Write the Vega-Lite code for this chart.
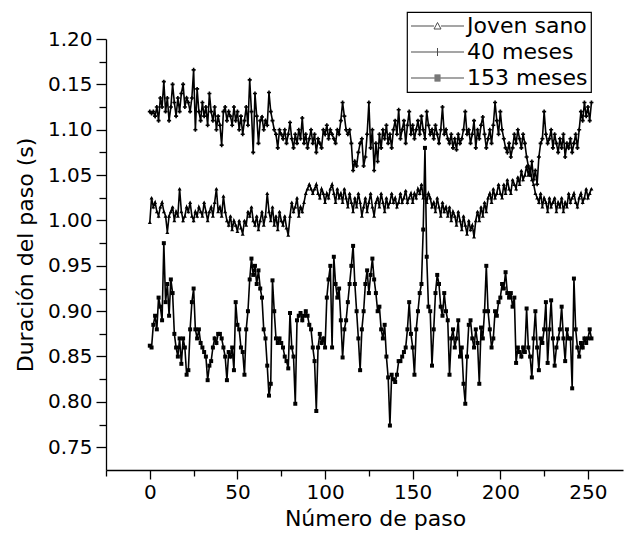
{
"$schema": "https://vega.github.io/schema/vega-lite/v6.json",
"width": 517, "height": 431,
"autosize": {"type": "none"},
"padding": {"left": 106, "top": 39, "right": 1, "bottom": 68},
"background": "white",
"config": {
 "view": {"stroke": null},
 "font": "DejaVu Sans",
 "axis": {"grid": false, "domainColor": "black", "domainWidth": 1.3, "tickColor": "black", "tickWidth": 1.3, "labelColor": "black", "titleColor": "black", "labelFont": "DejaVu Sans", "titleFont": "DejaVu Sans", "labelFontSize": 20, "titleFontSize": 22, "titleFontWeight": "normal", "labelOverlap": false, "labelFlush": false},
 "legend": {"orient": "none", "legendX": 301, "legendY": -27, "strokeColor": "black", "strokeWidth": 1.2, "fillColor": "white", "padding": 3, "cornerRadius": 0, "labelFont": "DejaVu Sans", "labelFontSize": 22, "labelColor": "black", "symbolSize": 400, "symbolStrokeColor": "black", "symbolFillColor": "transparent", "symbolStrokeWidth": 1, "labelOffset": 35, "rowPadding": 4}
},
"data": {"values": [
{"p":0,"Joven sano":0.998,"40 meses":1.120,"153 meses":0.862},
{"p":1,"Joven sano":1.025,"40 meses":1.118,"153 meses":0.860},
{"p":2,"Joven sano":1.015,"40 meses":1.120,"153 meses":0.885},
{"p":3,"Joven sano":1.020,"40 meses":1.115,"153 meses":0.895},
{"p":4,"Joven sano":1.010,"40 meses":1.125,"153 meses":0.880},
{"p":5,"Joven sano":1.005,"40 meses":1.110,"153 meses":0.915},
{"p":6,"Joven sano":1.015,"40 meses":1.135,"153 meses":0.905},
{"p":7,"Joven sano":1.020,"40 meses":1.125,"153 meses":0.890},
{"p":8,"Joven sano":1.010,"40 meses":1.153,"153 meses":0.975},
{"p":9,"Joven sano":1.005,"40 meses":1.120,"153 meses":0.910},
{"p":10,"Joven sano":0.987,"40 meses":1.135,"153 meses":0.930},
{"p":11,"Joven sano":1.005,"40 meses":1.110,"153 meses":0.895},
{"p":12,"Joven sano":1.010,"40 meses":1.125,"153 meses":0.935},
{"p":13,"Joven sano":1.015,"40 meses":1.150,"153 meses":0.920},
{"p":14,"Joven sano":1.000,"40 meses":1.130,"153 meses":0.875},
{"p":15,"Joven sano":1.010,"40 meses":1.115,"153 meses":0.860},
{"p":16,"Joven sano":1.005,"40 meses":1.135,"153 meses":0.850},
{"p":17,"Joven sano":1.035,"40 meses":1.120,"153 meses":0.870},
{"p":18,"Joven sano":1.010,"40 meses":1.140,"153 meses":0.842},
{"p":19,"Joven sano":1.000,"40 meses":1.150,"153 meses":0.870},
{"p":20,"Joven sano":1.005,"40 meses":1.125,"153 meses":0.860},
{"p":21,"Joven sano":1.015,"40 meses":1.135,"153 meses":0.830},
{"p":22,"Joven sano":1.010,"40 meses":1.130,"153 meses":0.835},
{"p":23,"Joven sano":1.020,"40 meses":1.120,"153 meses":0.880},
{"p":24,"Joven sano":1.005,"40 meses":1.135,"153 meses":0.910},
{"p":25,"Joven sano":1.000,"40 meses":1.166,"153 meses":0.925},
{"p":26,"Joven sano":1.010,"40 meses":1.100,"153 meses":0.880},
{"p":27,"Joven sano":1.005,"40 meses":1.145,"153 meses":0.870},
{"p":28,"Joven sano":1.015,"40 meses":1.120,"153 meses":0.880},
{"p":29,"Joven sano":1.010,"40 meses":1.110,"153 meses":0.865},
{"p":30,"Joven sano":1.005,"40 meses":1.130,"153 meses":0.860},
{"p":31,"Joven sano":1.020,"40 meses":1.115,"153 meses":0.855},
{"p":32,"Joven sano":1.010,"40 meses":1.125,"153 meses":0.850},
{"p":33,"Joven sano":1.000,"40 meses":1.105,"153 meses":0.824},
{"p":34,"Joven sano":1.010,"40 meses":1.140,"153 meses":0.840},
{"p":35,"Joven sano":1.015,"40 meses":1.120,"153 meses":0.845},
{"p":36,"Joven sano":1.005,"40 meses":1.110,"153 meses":0.860},
{"p":37,"Joven sano":1.020,"40 meses":1.125,"153 meses":0.870},
{"p":38,"Joven sano":1.035,"40 meses":1.100,"153 meses":0.865},
{"p":39,"Joven sano":1.010,"40 meses":1.115,"153 meses":0.875},
{"p":40,"Joven sano":1.015,"40 meses":1.105,"153 meses":0.875},
{"p":41,"Joven sano":1.005,"40 meses":1.083,"153 meses":0.870},
{"p":42,"Joven sano":1.027,"40 meses":1.120,"153 meses":0.860},
{"p":43,"Joven sano":1.010,"40 meses":1.125,"153 meses":0.850},
{"p":44,"Joven sano":1.000,"40 meses":1.110,"153 meses":0.824},
{"p":45,"Joven sano":0.995,"40 meses":1.120,"153 meses":0.855},
{"p":46,"Joven sano":1.005,"40 meses":1.115,"153 meses":0.850},
{"p":47,"Joven sano":0.990,"40 meses":1.105,"153 meses":0.860},
{"p":48,"Joven sano":1.000,"40 meses":1.125,"153 meses":0.835},
{"p":49,"Joven sano":0.995,"40 meses":1.110,"153 meses":0.910},
{"p":50,"Joven sano":0.988,"40 meses":1.120,"153 meses":0.885},
{"p":51,"Joven sano":1.000,"40 meses":1.100,"153 meses":0.880},
{"p":52,"Joven sano":0.992,"40 meses":1.115,"153 meses":0.860},
{"p":53,"Joven sano":0.985,"40 meses":1.095,"153 meses":0.855},
{"p":54,"Joven sano":1.000,"40 meses":1.110,"153 meses":0.830},
{"p":55,"Joven sano":0.995,"40 meses":1.125,"153 meses":0.880},
{"p":56,"Joven sano":1.010,"40 meses":1.105,"153 meses":0.900},
{"p":57,"Joven sano":1.005,"40 meses":1.155,"153 meses":0.935},
{"p":58,"Joven sano":1.015,"40 meses":1.120,"153 meses":0.958},
{"p":59,"Joven sano":1.000,"40 meses":1.075,"153 meses":0.940},
{"p":60,"Joven sano":0.995,"40 meses":1.140,"153 meses":0.950},
{"p":61,"Joven sano":1.005,"40 meses":1.115,"153 meses":0.930},
{"p":62,"Joven sano":0.990,"40 meses":1.085,"153 meses":0.945},
{"p":63,"Joven sano":1.000,"40 meses":1.110,"153 meses":0.925},
{"p":64,"Joven sano":1.010,"40 meses":1.114,"153 meses":0.915},
{"p":65,"Joven sano":0.995,"40 meses":1.100,"153 meses":0.880},
{"p":66,"Joven sano":1.005,"40 meses":1.110,"153 meses":0.870},
{"p":67,"Joven sano":1.030,"40 meses":1.105,"153 meses":0.840},
{"p":68,"Joven sano":1.010,"40 meses":1.141,"153 meses":0.807},
{"p":69,"Joven sano":1.000,"40 meses":1.120,"153 meses":0.820},
{"p":70,"Joven sano":1.015,"40 meses":1.110,"153 meses":0.934},
{"p":71,"Joven sano":0.995,"40 meses":1.100,"153 meses":0.900},
{"p":72,"Joven sano":1.005,"40 meses":1.095,"153 meses":0.870},
{"p":73,"Joven sano":0.990,"40 meses":1.080,"153 meses":0.865},
{"p":74,"Joven sano":1.010,"40 meses":1.100,"153 meses":0.870},
{"p":75,"Joven sano":1.000,"40 meses":1.095,"153 meses":0.865},
{"p":76,"Joven sano":0.995,"40 meses":1.090,"153 meses":0.860},
{"p":77,"Joven sano":1.005,"40 meses":1.100,"153 meses":0.850},
{"p":78,"Joven sano":0.992,"40 meses":1.085,"153 meses":0.845},
{"p":79,"Joven sano":0.984,"40 meses":1.095,"153 meses":0.837},
{"p":80,"Joven sano":1.005,"40 meses":1.108,"153 meses":0.898},
{"p":81,"Joven sano":1.020,"40 meses":1.090,"153 meses":0.860},
{"p":82,"Joven sano":1.010,"40 meses":1.080,"153 meses":0.850},
{"p":83,"Joven sano":1.015,"40 meses":1.095,"153 meses":0.798},
{"p":84,"Joven sano":1.025,"40 meses":1.085,"153 meses":0.890},
{"p":85,"Joven sano":1.005,"40 meses":1.100,"153 meses":0.895},
{"p":86,"Joven sano":1.015,"40 meses":1.090,"153 meses":0.898},
{"p":87,"Joven sano":1.010,"40 meses":1.113,"153 meses":0.890},
{"p":88,"Joven sano":1.020,"40 meses":1.085,"153 meses":0.895},
{"p":89,"Joven sano":1.030,"40 meses":1.095,"153 meses":0.900},
{"p":90,"Joven sano":1.035,"40 meses":1.080,"153 meses":0.895},
{"p":91,"Joven sano":1.040,"40 meses":1.090,"153 meses":0.885},
{"p":92,"Joven sano":1.035,"40 meses":1.100,"153 meses":0.880},
{"p":93,"Joven sano":1.030,"40 meses":1.085,"153 meses":0.860},
{"p":94,"Joven sano":1.035,"40 meses":1.095,"153 meses":0.845},
{"p":95,"Joven sano":1.040,"40 meses":1.075,"153 meses":0.790},
{"p":96,"Joven sano":1.030,"40 meses":1.090,"153 meses":0.860},
{"p":97,"Joven sano":1.025,"40 meses":1.085,"153 meses":0.875},
{"p":98,"Joven sano":1.035,"40 meses":1.080,"153 meses":0.865},
{"p":99,"Joven sano":1.030,"40 meses":1.100,"153 meses":0.870},
{"p":100,"Joven sano":1.020,"40 meses":1.095,"153 meses":0.860},
{"p":101,"Joven sano":1.030,"40 meses":1.105,"153 meses":0.915},
{"p":102,"Joven sano":1.025,"40 meses":1.090,"153 meses":0.935},
{"p":103,"Joven sano":1.035,"40 meses":1.100,"153 meses":0.950},
{"p":104,"Joven sano":1.040,"40 meses":1.095,"153 meses":0.860},
{"p":105,"Joven sano":1.030,"40 meses":1.090,"153 meses":0.960},
{"p":106,"Joven sano":1.020,"40 meses":1.085,"153 meses":0.930},
{"p":107,"Joven sano":1.035,"40 meses":1.100,"153 meses":0.915},
{"p":108,"Joven sano":1.025,"40 meses":1.095,"153 meses":0.925},
{"p":109,"Joven sano":1.030,"40 meses":1.110,"153 meses":0.890},
{"p":110,"Joven sano":1.020,"40 meses":1.130,"153 meses":0.849},
{"p":111,"Joven sano":1.035,"40 meses":1.115,"153 meses":0.880},
{"p":112,"Joven sano":1.025,"40 meses":1.100,"153 meses":0.890},
{"p":113,"Joven sano":1.015,"40 meses":1.095,"153 meses":0.910},
{"p":114,"Joven sano":1.030,"40 meses":1.100,"153 meses":0.930},
{"p":115,"Joven sano":1.020,"40 meses":1.085,"153 meses":0.950},
{"p":116,"Joven sano":1.010,"40 meses":1.055,"153 meses":0.972},
{"p":117,"Joven sano":1.025,"40 meses":1.065,"153 meses":0.930},
{"p":118,"Joven sano":1.015,"40 meses":1.060,"153 meses":0.900},
{"p":119,"Joven sano":1.030,"40 meses":1.075,"153 meses":0.870},
{"p":120,"Joven sano":1.020,"40 meses":1.085,"153 meses":0.835},
{"p":121,"Joven sano":1.005,"40 meses":1.090,"153 meses":0.880},
{"p":122,"Joven sano":1.015,"40 meses":1.060,"153 meses":0.900},
{"p":123,"Joven sano":1.025,"40 meses":1.070,"153 meses":0.930},
{"p":124,"Joven sano":1.010,"40 meses":1.095,"153 meses":0.945},
{"p":125,"Joven sano":1.020,"40 meses":1.130,"153 meses":0.920},
{"p":126,"Joven sano":1.030,"40 meses":1.080,"153 meses":0.940},
{"p":127,"Joven sano":1.015,"40 meses":1.100,"153 meses":0.958},
{"p":128,"Joven sano":1.005,"40 meses":1.055,"153 meses":0.935},
{"p":129,"Joven sano":1.020,"40 meses":1.085,"153 meses":0.920},
{"p":130,"Joven sano":1.025,"40 meses":1.065,"153 meses":0.900},
{"p":131,"Joven sano":1.015,"40 meses":1.095,"153 meses":0.905},
{"p":132,"Joven sano":1.030,"40 meses":1.080,"153 meses":0.880},
{"p":133,"Joven sano":1.020,"40 meses":1.100,"153 meses":0.870},
{"p":134,"Joven sano":1.010,"40 meses":1.090,"153 meses":0.885},
{"p":135,"Joven sano":1.025,"40 meses":1.105,"153 meses":0.850},
{"p":136,"Joven sano":1.015,"40 meses":1.085,"153 meses":0.827},
{"p":137,"Joven sano":1.020,"40 meses":1.095,"153 meses":0.774},
{"p":138,"Joven sano":1.030,"40 meses":1.080,"153 meses":0.830},
{"p":139,"Joven sano":1.020,"40 meses":1.100,"153 meses":0.825},
{"p":140,"Joven sano":1.025,"40 meses":1.110,"153 meses":0.822},
{"p":141,"Joven sano":1.015,"40 meses":1.095,"153 meses":0.830},
{"p":142,"Joven sano":1.020,"40 meses":1.122,"153 meses":0.845},
{"p":143,"Joven sano":1.030,"40 meses":1.090,"153 meses":0.845},
{"p":144,"Joven sano":1.020,"40 meses":1.100,"153 meses":0.850},
{"p":145,"Joven sano":1.025,"40 meses":1.110,"153 meses":0.855},
{"p":146,"Joven sano":1.033,"40 meses":1.085,"153 meses":0.860},
{"p":147,"Joven sano":1.020,"40 meses":1.105,"153 meses":0.880},
{"p":148,"Joven sano":1.025,"40 meses":1.120,"153 meses":0.910},
{"p":149,"Joven sano":1.030,"40 meses":1.095,"153 meses":0.875},
{"p":150,"Joven sano":1.020,"40 meses":1.105,"153 meses":0.860},
{"p":151,"Joven sano":1.030,"40 meses":1.090,"153 meses":0.830},
{"p":152,"Joven sano":1.025,"40 meses":1.100,"153 meses":0.880},
{"p":153,"Joven sano":1.035,"40 meses":1.110,"153 meses":0.900},
{"p":154,"Joven sano":1.030,"40 meses":1.095,"153 meses":0.920},
{"p":155,"Joven sano":1.040,"40 meses":1.115,"153 meses":0.930},
{"p":156,"Joven sano":1.025,"40 meses":1.100,"153 meses":0.990},
{"p":157,"Joven sano":1.030,"40 meses":1.090,"153 meses":1.080},
{"p":158,"Joven sano":1.020,"40 meses":1.120,"153 meses":0.960},
{"p":159,"Joven sano":1.030,"40 meses":1.105,"153 meses":0.905},
{"p":160,"Joven sano":1.025,"40 meses":1.095,"153 meses":0.900},
{"p":161,"Joven sano":1.015,"40 meses":1.100,"153 meses":0.840},
{"p":162,"Joven sano":1.020,"40 meses":1.090,"153 meses":0.880},
{"p":163,"Joven sano":1.010,"40 meses":1.105,"153 meses":0.920},
{"p":164,"Joven sano":1.025,"40 meses":1.095,"153 meses":0.940},
{"p":165,"Joven sano":1.015,"40 meses":1.085,"153 meses":0.930},
{"p":166,"Joven sano":1.005,"40 meses":1.100,"153 meses":0.905},
{"p":167,"Joven sano":1.020,"40 meses":1.125,"153 meses":0.895},
{"p":168,"Joven sano":1.010,"40 meses":1.095,"153 meses":0.920},
{"p":169,"Joven sano":1.015,"40 meses":1.100,"153 meses":0.900},
{"p":170,"Joven sano":1.005,"40 meses":1.090,"153 meses":0.890},
{"p":171,"Joven sano":1.015,"40 meses":1.085,"153 meses":0.830},
{"p":172,"Joven sano":1.000,"40 meses":1.095,"153 meses":0.870},
{"p":173,"Joven sano":1.010,"40 meses":1.080,"153 meses":0.880},
{"p":174,"Joven sano":1.005,"40 meses":1.090,"153 meses":0.860},
{"p":175,"Joven sano":0.995,"40 meses":1.078,"153 meses":0.870},
{"p":176,"Joven sano":1.010,"40 meses":1.095,"153 meses":0.890},
{"p":177,"Joven sano":1.000,"40 meses":1.085,"153 meses":0.850},
{"p":178,"Joven sano":0.990,"40 meses":1.090,"153 meses":0.860},
{"p":179,"Joven sano":1.005,"40 meses":1.100,"153 meses":0.820},
{"p":180,"Joven sano":0.995,"40 meses":1.120,"153 meses":0.798},
{"p":181,"Joven sano":0.985,"40 meses":1.095,"153 meses":0.850},
{"p":182,"Joven sano":1.000,"40 meses":1.100,"153 meses":0.885},
{"p":183,"Joven sano":0.990,"40 meses":1.085,"153 meses":0.890},
{"p":184,"Joven sano":0.995,"40 meses":1.095,"153 meses":0.870},
{"p":185,"Joven sano":0.982,"40 meses":1.110,"153 meses":0.860},
{"p":186,"Joven sano":1.000,"40 meses":1.080,"153 meses":0.880},
{"p":187,"Joven sano":1.010,"40 meses":1.100,"153 meses":0.865},
{"p":188,"Joven sano":1.000,"40 meses":1.090,"153 meses":0.820},
{"p":189,"Joven sano":1.015,"40 meses":1.105,"153 meses":0.882},
{"p":190,"Joven sano":1.005,"40 meses":1.114,"153 meses":0.870},
{"p":191,"Joven sano":1.020,"40 meses":1.095,"153 meses":0.900},
{"p":192,"Joven sano":1.010,"40 meses":1.080,"153 meses":0.950},
{"p":193,"Joven sano":1.025,"40 meses":1.090,"153 meses":0.900},
{"p":194,"Joven sano":1.030,"40 meses":1.100,"153 meses":0.880},
{"p":195,"Joven sano":1.020,"40 meses":1.085,"153 meses":0.860},
{"p":196,"Joven sano":1.035,"40 meses":1.105,"153 meses":0.870},
{"p":197,"Joven sano":1.025,"40 meses":1.130,"153 meses":0.900},
{"p":198,"Joven sano":1.030,"40 meses":1.110,"153 meses":0.895},
{"p":199,"Joven sano":1.040,"40 meses":1.095,"153 meses":0.910},
{"p":200,"Joven sano":1.030,"40 meses":1.120,"153 meses":0.915},
{"p":201,"Joven sano":1.025,"40 meses":1.100,"153 meses":0.930},
{"p":202,"Joven sano":1.040,"40 meses":1.090,"153 meses":0.925},
{"p":203,"Joven sano":1.030,"40 meses":1.080,"153 meses":0.943},
{"p":204,"Joven sano":1.045,"40 meses":1.075,"153 meses":0.920},
{"p":205,"Joven sano":1.035,"40 meses":1.085,"153 meses":0.915},
{"p":206,"Joven sano":1.030,"40 meses":1.070,"153 meses":0.920},
{"p":207,"Joven sano":1.045,"40 meses":1.080,"153 meses":0.905},
{"p":208,"Joven sano":1.040,"40 meses":1.095,"153 meses":0.915},
{"p":209,"Joven sano":1.035,"40 meses":1.085,"153 meses":0.843},
{"p":210,"Joven sano":1.048,"40 meses":1.100,"153 meses":0.860},
{"p":211,"Joven sano":1.040,"40 meses":1.090,"153 meses":0.855},
{"p":212,"Joven sano":1.055,"40 meses":1.080,"153 meses":0.850},
{"p":213,"Joven sano":1.045,"40 meses":1.095,"153 meses":0.860},
{"p":214,"Joven sano":1.050,"40 meses":1.085,"153 meses":0.855},
{"p":215,"Joven sano":1.060,"40 meses":1.070,"153 meses":0.903},
{"p":216,"Joven sano":1.050,"40 meses":1.060,"153 meses":0.860},
{"p":217,"Joven sano":1.058,"40 meses":1.050,"153 meses":0.850},
{"p":218,"Joven sano":1.045,"40 meses":1.065,"153 meses":0.827},
{"p":219,"Joven sano":1.040,"40 meses":1.045,"153 meses":0.870},
{"p":220,"Joven sano":1.030,"40 meses":1.055,"153 meses":0.900},
{"p":221,"Joven sano":1.025,"40 meses":1.040,"153 meses":0.860},
{"p":222,"Joven sano":1.020,"40 meses":1.070,"153 meses":0.835},
{"p":223,"Joven sano":1.030,"40 meses":1.085,"153 meses":0.870},
{"p":224,"Joven sano":1.015,"40 meses":1.090,"153 meses":0.865},
{"p":225,"Joven sano":1.025,"40 meses":1.120,"153 meses":0.880},
{"p":226,"Joven sano":1.020,"40 meses":1.095,"153 meses":0.910},
{"p":227,"Joven sano":1.010,"40 meses":1.085,"153 meses":0.843},
{"p":228,"Joven sano":1.025,"40 meses":1.090,"153 meses":0.880},
{"p":229,"Joven sano":1.015,"40 meses":1.100,"153 meses":0.912},
{"p":230,"Joven sano":1.020,"40 meses":1.080,"153 meses":0.870},
{"p":231,"Joven sano":1.025,"40 meses":1.095,"153 meses":0.840},
{"p":232,"Joven sano":1.010,"40 meses":1.085,"153 meses":0.860},
{"p":233,"Joven sano":1.020,"40 meses":1.075,"153 meses":0.870},
{"p":234,"Joven sano":1.015,"40 meses":1.090,"153 meses":0.880},
{"p":235,"Joven sano":1.025,"40 meses":1.080,"153 meses":0.905},
{"p":236,"Joven sano":1.010,"40 meses":1.095,"153 meses":0.870},
{"p":237,"Joven sano":1.020,"40 meses":1.070,"153 meses":0.845},
{"p":238,"Joven sano":1.015,"40 meses":1.085,"153 meses":0.880},
{"p":239,"Joven sano":1.030,"40 meses":1.080,"153 meses":0.870},
{"p":240,"Joven sano":1.020,"40 meses":1.090,"153 meses":0.870},
{"p":241,"Joven sano":1.025,"40 meses":1.075,"153 meses":0.815},
{"p":242,"Joven sano":1.030,"40 meses":1.085,"153 meses":0.936},
{"p":243,"Joven sano":1.020,"40 meses":1.095,"153 meses":0.880},
{"p":244,"Joven sano":1.015,"40 meses":1.080,"153 meses":0.860},
{"p":245,"Joven sano":1.025,"40 meses":1.100,"153 meses":0.850},
{"p":246,"Joven sano":1.030,"40 meses":1.120,"153 meses":0.865},
{"p":247,"Joven sano":1.020,"40 meses":1.110,"153 meses":0.860},
{"p":248,"Joven sano":1.025,"40 meses":1.130,"153 meses":0.870},
{"p":249,"Joven sano":1.035,"40 meses":1.115,"153 meses":0.865},
{"p":250,"Joven sano":1.025,"40 meses":1.125,"153 meses":0.870},
{"p":251,"Joven sano":1.030,"40 meses":1.110,"153 meses":0.880},
{"p":252,"Joven sano":1.035,"40 meses":1.130,"153 meses":0.870}
]},
"transform": [{"fold": ["Joven sano", "40 meses", "153 meses"], "as": ["serie", "d"]}],
"layer": [
 {"mark": {"type": "line", "color": "black", "strokeWidth": 1.6},
  "encoding": {
   "x": {"field": "p", "type": "quantitative", "scale": {"domain": [-25, 270], "nice": false, "zero": false},
    "axis": {"title": "Número de paso", "values": [0, 50, 100, 150, 200, 250], "ticks": false, "tickSize": 0, "labelPadding": 12, "titlePadding": 6, "titleX": 269}},
   "y": {"field": "d", "type": "quantitative", "scale": {"domain": [0.725, 1.2], "nice": false, "zero": false},
    "axis": {"title": "Duración del paso (s)", "values": [0.75, 0.8, 0.85, 0.9, 0.95, 1, 1.05, 1.1, 1.15, 1.2],
     "labelExpr": "abs(datum.value - 1.15) < 0.001 ? '0.15' : format(datum.value, '.2f')",
     "ticks": false, "tickSize": 0, "labelPadding": 14, "titlePadding": 10}},
   "detail": {"field": "serie", "type": "nominal"}}},
 {"mark": {"type": "point", "filled": true, "color": "black", "size": 16, "opacity": 1},
  "encoding": {
   "x": {"field": "p", "type": "quantitative", "axis": null},
   "y": {"field": "d", "type": "quantitative", "axis": null},
   "shape": {"field": "serie", "type": "nominal", "scale": {"domain": ["Joven sano", "40 meses", "153 meses"], "range": ["triangle-up", "cross", "square"]}, "legend": null}}},
 {"data": {"values": []}, "mark": {"type": "point"},
  "encoding": {
   "x": {"field": "p", "type": "quantitative",
    "axis": {"orient": "bottom", "values": [0.001, 50.001, 100.001, 150.001, 200.001, 250.001], "labels": false, "tickSize": 9, "domain": false, "title": null}},
   "y": {"field": "d", "type": "quantitative",
    "axis": {"orient": "left", "values": [0.7501, 0.8001, 0.8501, 0.9001, 0.9501, 1.0001, 1.0501, 1.1001, 1.1501, 1.1999], "labels": false, "tickSize": 10, "domain": false, "title": null}}}},
 {"data": {"values": []}, "mark": {"type": "point"},
  "encoding": {
   "x": {"field": "p", "type": "quantitative",
    "axis": {"orient": "bottom", "values": [-25, 25, 75, 125, 175, 225], "labels": false, "tickSize": 6, "domain": false, "title": null}},
   "y": {"field": "d", "type": "quantitative",
    "axis": {"orient": "left", "values": [0.775, 0.825, 0.875, 0.925, 0.975, 1.025, 1.075, 1.125, 1.175], "labels": false, "tickSize": 7, "domain": false, "title": null}},
   "shape": {"field": "serie", "type": "nominal",
   "scale": {"domain": ["Joven sano", "40 meses", "153 meses"],
    "range": ["M-1,0H1.3M2,0H4.3M1.3,0.3L1.65,-0.35L2,0.3Z", "M-1,0H4.3M1.65,-0.4V0.4", "M-1,0H4.3M1.35,-0.3H1.95M1.35,-0.2H1.95M1.35,-0.1H1.95M1.35,0.1H1.95M1.35,0.2H1.95M1.35,0.3H1.95"]},
   "legend": {"title": null}}}}
],
"resolve": {"scale": {"shape": "independent"}, "axis": {"x": "independent", "y": "independent"}}
}
